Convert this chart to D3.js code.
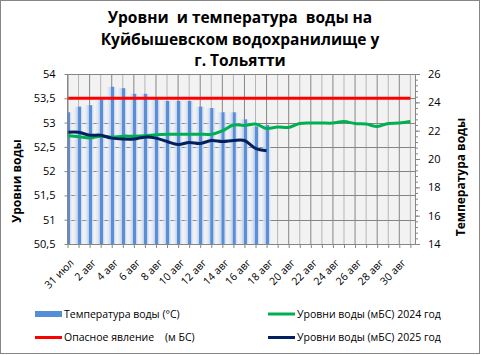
<!DOCTYPE html>
<html>
<head>
<meta charset="utf-8">
<script src="https://cdn.jsdelivr.net/npm/d3@7"></script>
<style>
  body { margin: 0; background: #fff; }
  text { white-space: pre; }
</style>
</head>
<body>
<div id="chart"></div>
<script>
// days from 31 июл to 31 авг
const dayLabels = ["31 июл", "1 авг", "2 авг", "3 авг", "4 авг", "5 авг", "6 авг", "7 авг", "8 авг",
  "9 авг", "10 авг", "11 авг", "12 авг", "13 авг", "14 авг", "15 авг", "16 авг", "17 авг", "18 авг",
  "19 авг", "20 авг", "21 авг", "22 авг", "23 авг", "24 авг", "25 авг", "26 авг", "27 авг", "28 авг",
  "29 авг", "30 авг", "31 авг"];

const waterTemp = [23.3, 23.7, 23.8, 24.2, 25.1, 25.0, 24.6, 24.6, 24.2, 24.1, 24.1, 24.1, 23.7,
  23.6, 23.3, 23.3, 22.8, 22.3, 22.4];

const level2024 = [52.73, 52.71, 52.68, 52.72, 52.70, 52.72, 52.72, 52.73, 52.75, 52.76, 52.76,
  52.76, 52.76, 52.76, 52.83, 52.95, 52.94, 52.97, 52.88, 52.91, 52.90, 52.98, 52.99, 52.99,
  52.99, 53.02, 52.98, 52.97, 52.92, 52.98, 52.99, 53.02];

const level2025 = [52.80, 52.80, 52.74, 52.74, 52.68, 52.66, 52.66, 52.70, 52.68, 52.61, 52.55,
  52.59, 52.57, 52.63, 52.61, 52.63, 52.63, 52.47, 52.42];

const dangerLevel = dayLabels.map(() => 53.5);

const leftTicks = [50.5, 51, 51.5, 52, 52.5, 53, 53.5, 54];
const rightTicks = [14, 16, 18, 20, 22, 24, 26];

const titleLines = ["Уровни  и температура  воды на", "Куйбышевском водохранилище у", "г. Тольятти"];

const legendItems = [
  { label: "Температура воды (°С)", color: "#558ed5", type: "rect", col: 0, row: 0 },
  { label: "Уровни воды (мБС) 2024 год", color: "#00b050", type: "line", col: 1, row: 0 },
  { label: "Опасное явление    (м БС)", color: "#ff0000", type: "line", col: 0, row: 1 },
  { label: "Уровни воды (мБС) 2025 год", color: "#002060", type: "line", col: 1, row: 1 }
];

const width = 481;
const height = 355;
const plot = { left: 67.5, right: 415, top: 74, bottom: 244 };
const font = "'Open Sans', sans-serif";

const svg = d3.select("#chart").append("svg")
  .attr("width", width)
  .attr("height", height)
  .style("display", "block");

// chart border
svg.append("rect")
  .attr("x", 0.5).attr("y", 0.5)
  .attr("width", width - 2).attr("height", height - 2)
  .attr("fill", "#fff")
  .attr("stroke", "#868686");

const x = d3.scaleLinear().domain([0, 31.42]).range([plot.left, plot.right]);
const yL = d3.scaleLinear().domain([50.5, 54]).range([plot.bottom, plot.top]);
const yR = d3.scaleLinear().domain([14, 26]).range([plot.bottom, plot.top]);

// title
svg.append("g").selectAll("text")
  .data(titleLines)
  .join("text")
  .attr("x", 240)
  .attr("y", (d, i) => 23 + i * 21.5)
  .attr("text-anchor", "middle")
  .attr("font-family", font)
  .attr("font-weight", "bold")
  .attr("font-size", 15.5)
  .attr("fill", "#000")
  .text(d => d);

// plot background
svg.append("rect")
  .attr("x", plot.left).attr("y", plot.top)
  .attr("width", plot.right - plot.left).attr("height", plot.bottom - plot.top)
  .attr("fill", "#f2f2f2");

const defs = svg.append("defs");
defs.append("clipPath").attr("id", "clip")
  .append("rect")
  .attr("x", plot.left).attr("y", plot.top)
  .attr("width", plot.right - plot.left).attr("height", plot.bottom - plot.top);

const grad = defs.append("linearGradient").attr("id", "barGrad")
  .attr("x1", "0%").attr("x2", "100%").attr("y1", "0%").attr("y2", "0%");
[
  [0, "#dbe5f4", 0], [0.2, "#dbe5f4", 0.6], [0.45, "#b9cdea", 1], [0.47, "#5a8fd7", 1],
  [0.74, "#5a8fd7", 1], [0.76, "#b9cdea", 1], [0.9, "#dbe5f4", 0.6], [1, "#dbe5f4", 0]
].forEach(([o, c, op]) => grad.append("stop")
  .attr("offset", o).attr("stop-color", c).attr("stop-opacity", op));

// vertical gridlines
svg.append("g").selectAll("line")
  .data(dayLabels.map((d, i) => i))
  .join("line")
  .attr("x1", d => x(d)).attr("x2", d => x(d))
  .attr("y1", plot.top).attr("y2", plot.bottom)
  .attr("stroke", d => d % 2 === 0 ? "#858585" : "#b5b5b5")
  .attr("stroke-width", 1);

// horizontal gridlines
svg.append("g").selectAll("line")
  .data(leftTicks)
  .join("line")
  .attr("x1", plot.left).attr("x2", plot.right)
  .attr("y1", d => Math.round(yL(d)) + 0.5).attr("y2", d => Math.round(yL(d)) + 0.5)
  .attr("stroke", "#858585");

// temperature bars
const barW = x(0.92) - x(0);
svg.append("g")
  .attr("clip-path", "url(#clip)")
  .selectAll("rect")
  .data(waterTemp)
  .join("rect")
  .attr("x", (d, i) => x(i) - barW * 0.54)
  .attr("width", barW)
  .attr("y", d => yR(d))
  .attr("height", d => yR(14) - yR(d))
  .attr("fill", "url(#barGrad)");

// lines
const line = d3.line()
  .x((d, i) => x(i))
  .y(d => yL(d))
  .curve(d3.curveCatmullRom);

[[dangerLevel, "#ff0000"], [level2024, "#00b050"], [level2025, "#002060"]].forEach(([data, color]) => {
  svg.append("path")
    .datum(data)
    .attr("d", line)
    .attr("fill", "none")
    .attr("stroke", color)
    .attr("stroke-width", 3)
    .attr("stroke-linejoin", "round");
});

// axes
const axisColor = "#868686";
const styleAxis = g => {
  g.selectAll(".domain").attr("stroke", axisColor);
  g.selectAll(".tick line").attr("stroke", axisColor);
  g.selectAll("text").attr("font-family", font).attr("font-size", 11).attr("fill", "#000");
};

svg.append("g")
  .attr("transform", `translate(${plot.left},0)`)
  .call(d3.axisLeft(yL).tickValues(leftTicks).tickSize(3).tickSizeOuter(0).tickPadding(9)
    .tickFormat(d => String(d).replace(".", ",")))
  .call(styleAxis);

// right axis minor ticks
const minorR = d3.range(14, 26.01, 0.4);
svg.append("g")
  .attr("transform", `translate(${plot.right},0)`)
  .call(d3.axisRight(yR).tickValues(minorR).tickSize(3).tickSizeOuter(0).tickFormat(""))
  .call(styleAxis);

svg.append("g")
  .attr("transform", `translate(${plot.right},0)`)
  .call(d3.axisRight(yR).tickValues(rightTicks).tickSize(5).tickSizeOuter(0).tickPadding(8))
  .call(styleAxis);

const bottom = svg.append("g")
  .attr("transform", `translate(0,${plot.bottom})`)
  .call(d3.axisBottom(x).tickValues(dayLabels.map((d, i) => i)).tickSize(4).tickSizeOuter(0)
    .tickFormat(i => i % 2 === 0 ? dayLabels[i] : ""))
  .call(styleAxis);
bottom.selectAll(".tick text")
  .attr("text-anchor", "end")
  .attr("font-size", 10.5)
  .attr("transform", "translate(4,17) rotate(-45)")
  .attr("dy", "0.35em")
  .attr("y", 0)
  .attr("x", 0);

// axis titles
svg.append("text")
  .attr("transform", `translate(21,${181}) rotate(-90)`)
  .attr("text-anchor", "middle")
  .attr("font-family", font).attr("font-weight", "bold").attr("font-size", 12)
  .text("Уровни воды");

svg.append("text")
  .attr("transform", `translate(465,${177}) rotate(-90)`)
  .attr("text-anchor", "middle")
  .attr("font-family", font).attr("font-weight", "bold").attr("font-size", 12)
  .text("Температура воды");

// legend
const legend = svg.append("g").attr("font-family", font).attr("font-size", 10.5);
legendItems.forEach(item => {
  const lx = item.col === 0 ? 35 : 268;
  const ly = item.row === 0 ? 314 : 337.5;
  if (item.type === "rect") {
    legend.append("rect").attr("x", lx).attr("y", ly - 3).attr("width", 27).attr("height", 6)
      .attr("fill", item.color);
  } else {
    legend.append("line").attr("x1", lx).attr("x2", lx + 27).attr("y1", ly).attr("y2", ly)
      .attr("stroke", item.color).attr("stroke-width", 3);
  }
  legend.append("text").attr("x", lx + 29).attr("y", ly).attr("dy", "0.35em")
    .text(item.label);
});
</script>
</body>
</html>
